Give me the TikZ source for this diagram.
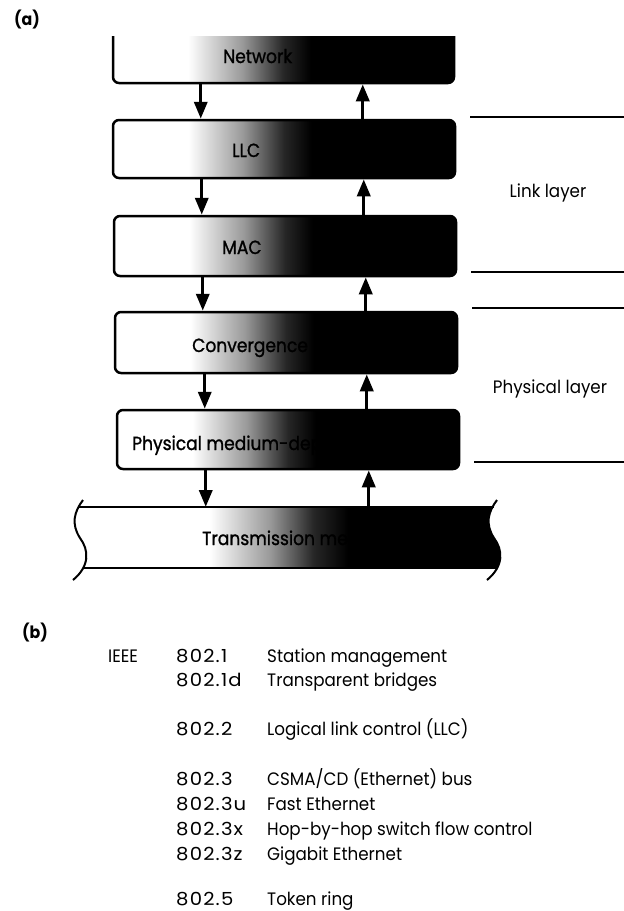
\documentclass[tikz,border=0pt]{standalone}
\usepackage{fontspec}
\setmainfont{Poppins}[FakeStretch=0.93]
\newfontfamily\numfont{Poppins}[Numbers=Monospaced, LetterSpace=6, FakeStretch=1.0]
\newfontfamily\boxfont{Poppins}[FakeStretch=0.9, FakeBold=1.2]
\newcommand\widenum[1]{\scalebox{1.09}[1.0]{#1}}
\usetikzlibrary{arrows.meta}
\pgfdeclarehorizontalshading{boxshade}{100bp}{color(0bp)=(white); color(36bp)=(white); color(44bp)=(black!40); color(50bp)=(black!85); color(54bp)=(black); color(100bp)=(black)}
\pgfdeclarehorizontalshading{bandshade}{100bp}{color(0bp)=(white); color(41bp)=(white); color(48bp)=(black!40); color(53bp)=(black!85); color(57bp)=(black); color(100bp)=(black)}
\begin{document}
\begin{tikzpicture}[x=1pt,y=-1pt,
  layerbox/.style={draw, line width=2.5pt, rounded corners=6pt, shading=boxshade, inner sep=0pt, minimum width=342pt},
  arr/.style={line width=3.4pt, -{Triangle[length=17pt,width=13pt]}},
  sep/.style={line width=1.2pt},
  edge/.style={line width=2pt},
  lbl/.style={font=\boxfont\fontsize{19}{22}\selectfont, anchor=base west, inner sep=0pt},
  side/.style={font=\fontsize{18}{21}\selectfont, anchor=base, inner sep=0pt},
  tbl/.style={font=\fontsize{18}{21}\selectfont, anchor=base west, inner sep=0pt},
  num/.style={font=\numfont\fontsize{18}{21}\selectfont, anchor=base west, inner sep=0pt},
  tag/.style={font=\bfseries\fontsize{17}{20}\selectfont, anchor=base west, inner sep=0pt}]
\useasboundingbox[fill=white] (0,0) rectangle (624,911);

\node[tag] (taga) at (14,25) {(a)};

% Network box (top cut off)
\begin{scope}
\clip (100,36) rectangle (470,100);
\node[layerbox, minimum width=341pt, minimum height=63pt] (net) at (283.5,51.5) {};
\end{scope}
\node[layerbox, minimum height=58pt] (llc) at (284,149) {};
\node[layerbox, minimum height=60pt] (mac) at (285,246) {};
\node[layerbox, minimum height=61pt] (conv) at (286,342.5) {};
\node[layerbox, minimum height=59pt] (pmd) at (288,439.5) {};

% transmission medium band
\coordinate (bandtop) at (0,507);
\coordinate (bandbot) at (0,568);
\begin{scope}
\clip (60,507) rectangle (520,568);
\shade[shading=bandshade] (83,500) .. controls (74,512) and (71,524) .. (80,538) .. controls (89,550) and (90,566) .. (73,580) -- (487,580) .. controls (504,566) and (503,550) .. (494,538) .. controls (485,524) and (488,512) .. (497,500) -- cycle;
\end{scope}
\draw[line width=2.4pt] (79,507) -- (494,507);
\draw[line width=2.4pt] (84,568) -- (498,568);
\draw[edge] (83,500) .. controls (74,512) and (71,524) .. (80,538) .. controls (89,550) and (90,566) .. (73,580);
\draw[edge] (497,500) .. controls (488,512) and (485,524) .. (494,538) .. controls (503,550) and (504,566) .. (487,580);

% labels in boxes
\node[lbl] (netl) at (223,63) {Network};
\node[lbl] (llcl) at (232,157) {LLC};
\node[lbl] (macl) at (222,254) {MAC};
\node[lbl] (convl) at (192,352) {Convergence};
\node[lbl] (pmdl) at (132,450) {Physical medium-dependent};
\node[lbl] (tml) at (202,545) {Transmission medium};

% arrows
\draw[arr] ([xshift=89pt]net.south west) -- ([xshift=89pt]net.south west |- llc.north);
\draw[arr] ([xshift=251pt]llc.north west) -- ([xshift=251pt]llc.north west |- net.south);
\draw[arr] ([xshift=90pt]llc.south west) -- ([xshift=90pt]llc.south west |- mac.north);
\draw[arr] ([xshift=251pt]mac.north west) -- ([xshift=251pt]mac.north west |- llc.south);
\draw[arr] ([xshift=90pt]mac.south west) -- ([xshift=90pt]mac.south west |- conv.north);
\draw[arr] ([xshift=252pt]conv.north west) -- ([xshift=252pt]conv.north west |- mac.south);
\draw[arr] ([xshift=91pt]conv.south west) -- ([xshift=91pt]conv.south west |- pmd.north);
\draw[arr] ([xshift=251pt]pmd.north west) -- ([xshift=251pt]pmd.north west |- conv.south);
\draw[arr] ([xshift=90pt]pmd.south west) -- ([xshift=90pt]pmd.south west |- bandtop);
\draw[arr] ([xshift=253pt]pmd.south west |- bandtop) -- ([xshift=253pt]pmd.south west);

% layer separators
\draw[sep] (470,117) -- (624,117);
\draw[sep] (471,272) -- (624,272);
\draw[sep] (472,308) -- (624,308);
\draw[sep] (474,462) -- (624,462);
\node[side] (link) at (548,197) {Link layer};
\node[side] (phys) at (550,393) {Physical layer};

% (b) table
\node[tag] (tagb) at (22,638) {(b)};
\node[tbl] (ieee) at (108,662) {IEEE};
\node[num] (n1) at (176,662) {\widenum{802.1}};
\node[tbl] (d1) at (267,662) {Station management};
\node[num] (n1d) at (176,686) {\widenum{802.1d}};
\node[tbl] (d1d) at (267,686) {Transparent bridges};
\node[num] (n2) at (176,735) {\widenum{802.2}};
\node[tbl] (d2) at (267,735) {Logical link control (LLC)};
\node[num] (n3) at (176,785) {\widenum{802.3}};
\node[tbl] (d3) at (267,785) {CSMA/CD (Ethernet) bus};
\node[num] (n3u) at (176,810) {\widenum{802.3u}};
\node[tbl] (d3u) at (267,810) {Fast Ethernet};
\node[num] (n3x) at (176,835) {\widenum{802.3x}};
\node[tbl] (d3x) at (267,835) {Hop-by-hop switch flow control};
\node[num] (n3z) at (176,860) {\widenum{802.3z}};
\node[tbl] (d3z) at (267,860) {Gigabit Ethernet};
\node[num] (n5) at (176,905) {\widenum{802.5}};
\node[tbl] (d5) at (267,905) {Token ring};
\end{tikzpicture}
\end{document}
